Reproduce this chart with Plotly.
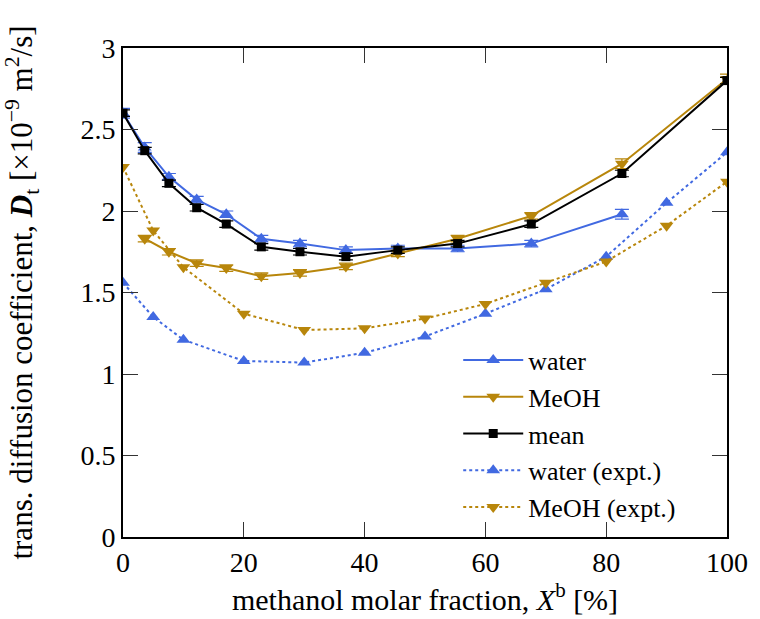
import plotly.graph_objects as go

# --- data ---
x_water = [0, 3.6, 7.6, 12.2, 17.1, 22.9, 29.3, 36.9, 45.5, 55.4, 67.6, 82.6]
y_water = [2.60, 2.39, 2.21, 2.07, 1.98, 1.83, 1.80, 1.76, 1.77, 1.77, 1.80, 1.98]
e_water = [0.03, 0.03, 0.02, 0.02, 0.02, 0.02, 0.02, 0.02, 0.02, 0.02, 0.02, 0.03]

x_meoh = [3.6, 7.6, 12.2, 17.1, 22.9, 29.3, 36.9, 45.5, 55.4, 67.6, 82.6, 100]
y_meoh = [1.83, 1.75, 1.68, 1.65, 1.60, 1.62, 1.66, 1.74, 1.83, 1.97, 2.29, 2.81]
e_meoh = [0.02, 0.02, 0.02, 0.02, 0.02, 0.02, 0.02, 0.02, 0.02, 0.02, 0.03, 0.03]

x_mean = [0, 3.6, 7.6, 12.2, 17.1, 22.9, 29.3, 36.9, 45.5, 55.4, 67.6, 82.6, 100]
y_mean = [2.60, 2.37, 2.17, 2.02, 1.92, 1.78, 1.75, 1.72, 1.76, 1.80, 1.92, 2.23, 2.80]
e_mean = [0.02, 0.02, 0.02, 0.02, 0.02, 0.02, 0.02, 0.02, 0.02, 0.02, 0.02, 0.02, 0.02]

x_water_exp = [0, 5, 10, 20, 30, 40, 50, 60, 70, 80, 90, 100]
y_water_exp = [1.56, 1.35, 1.21, 1.08, 1.07, 1.13, 1.23, 1.37, 1.52, 1.72, 2.05, 2.36]

x_meoh_exp = [0, 5, 10, 20, 30, 40, 50, 60, 70, 80, 90, 100]
y_meoh_exp = [2.27, 1.88, 1.655, 1.37, 1.27, 1.28, 1.34, 1.43, 1.56, 1.69, 1.91, 2.18]

x_ticks = [0, 20, 40, 60, 80, 100]
y_ticks = [0, 0.5, 1, 1.5, 2, 2.5, 3]
y_ticklabels = ["0", "0.5", "1", "1.5", "2", "2.5", "3"]

BLUE = "#4169E1"
GOLD = "#B8860B"
FONT = "Liberation Serif"

fig = go.Figure()

def err(e, color):
    return dict(type="data", array=e, visible=True, color=color, thickness=1.2, width=7)

fig.add_trace(go.Scatter(x=x_water, y=y_water, name="water", mode="lines+markers",
                         line=dict(color=BLUE, width=2),
                         marker=dict(symbol="triangle-up", size=12, color=BLUE),
                         error_y=err(e_water, BLUE)))
fig.add_trace(go.Scatter(x=x_meoh, y=y_meoh, name="MeOH", mode="lines+markers",
                         line=dict(color=GOLD, width=2),
                         marker=dict(symbol="triangle-down", size=12, color=GOLD),
                         error_y=err(e_meoh, GOLD)))
fig.add_trace(go.Scatter(x=x_mean, y=y_mean, name="mean", mode="lines+markers",
                         line=dict(color="black", width=2),
                         marker=dict(symbol="square", size=9, color="black"),
                         error_y=err(e_mean, "black")))
fig.add_trace(go.Scatter(x=x_water_exp, y=y_water_exp, name="water (expt.)", mode="lines+markers",
                         line=dict(color=BLUE, width=2, dash="dot"),
                         marker=dict(symbol="triangle-up", size=12, color=BLUE)))
fig.add_trace(go.Scatter(x=x_meoh_exp, y=y_meoh_exp, name="MeOH (expt.)", mode="lines+markers",
                         line=dict(color=GOLD, width=2, dash="dot"),
                         marker=dict(symbol="triangle-down", size=12, color=GOLD)))

axis_common = dict(showline=True, linecolor="black", linewidth=1.6, mirror="ticks",
                   ticks="inside", ticklen=15, tickwidth=1.2, tickcolor="#333333",
                   showgrid=False, zeroline=False,
                   tickfont=dict(family=FONT, size=28, color="black"))

fig.update_xaxes(range=[0, 100], tickvals=x_ticks, ticktext=[str(v) for v in x_ticks],
                 title=dict(text="methanol molar fraction, <i>X</i><sup>b</sup> [%]",
                            font=dict(family=FONT, size=30, color="black"), standoff=4),
                 **axis_common)
fig.update_yaxes(range=[0, 3], tickvals=y_ticks, ticktext=y_ticklabels,
                 title=dict(text="trans. diffusion coefficient, <b><i>D</i></b><sub>t</sub> [×10<sup>−9</sup> m<sup>2</sup>/s]",
                            font=dict(family=FONT, size=31, color="black"), standoff=40),
                 **axis_common)

fig.update_layout(
    width=760, height=619,
    margin=dict(l=123, r=22, t=48, b=82),
    paper_bgcolor="white", plot_bgcolor="white",
    font=dict(family=FONT, size=28, color="black"),
    showlegend=True,
    legend=dict(x=0.555, y=0.41, xanchor="left", yanchor="top",
                bgcolor="rgba(0,0,0,0)", font=dict(family=FONT, size=26),
                tracegroupgap=0, itemwidth=60),
)

fig.write_html("out.html")
